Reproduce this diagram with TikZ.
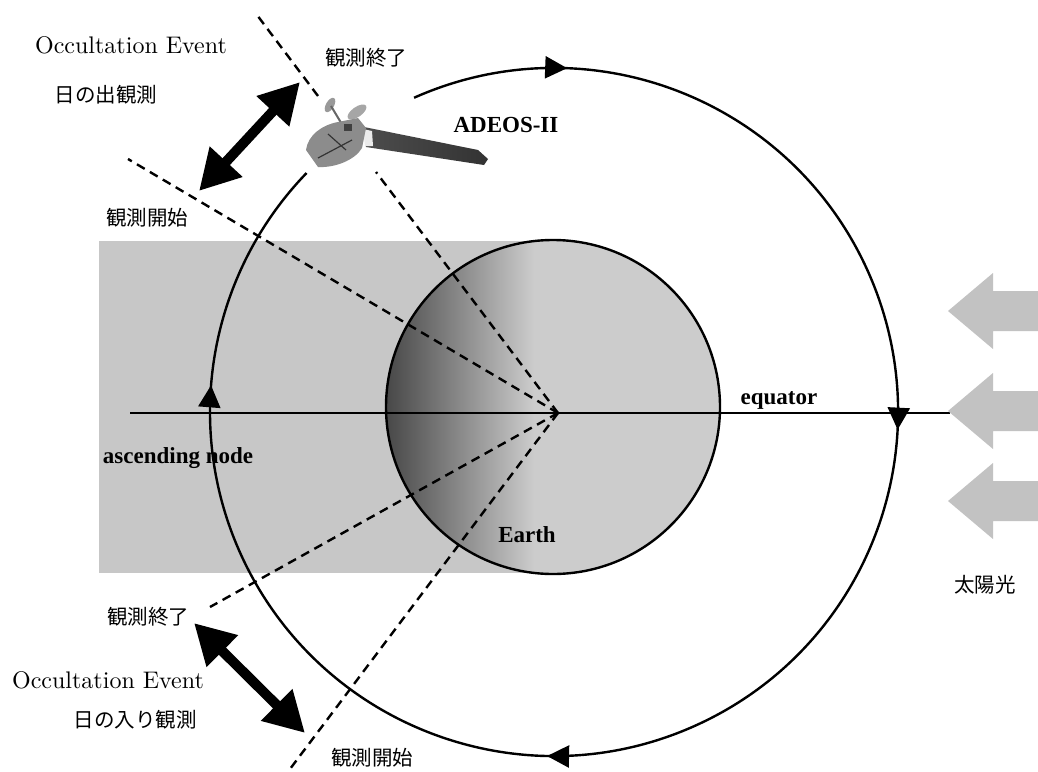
\documentclass[tikz,border=0pt]{standalone}
\usepackage{fontspec}
\usetikzlibrary{arrows.meta,decorations.markings}
\newfontfamily\jpfont{Noto Sans CJK JP}
\newfontfamily\tmsfont{Liberation Serif}
\newfontfamily\cmten{lmroman10-regular.otf}
\begin{document}
\begin{tikzpicture}[x=1pt,y=-1pt,
  every node/.style={inner sep=0pt,outer sep=0pt},
  latin/.style={font=\cmten\fontsize{24}{28}\selectfont},
  boldlabel/.style={font=\tmsfont\bfseries\fontsize{23}{27}\selectfont},
  jplabel/.style={font=\jpfont\fontsize{20.5}{24}\selectfont},
  fov/.style={line width=2.4pt,dash pattern=on 9pt off 6pt},
  orbitline/.style={line width=2.4pt},
  bigarrow/.style={line width=10pt,
    {Triangle[length=40pt,width=42pt]}-{Triangle[length=40pt,width=42pt]}},
  sunarrow/.style={fill=black!24,draw=none}
]
\useasboundingbox[fill=white] (0,0) rectangle (1038,771);

% key points
\coordinate (O) at (554,412);      % orbit centre
\coordinate (E) at (553,407);      % earth centre
\coordinate (C) at (558,413);      % convergence of the view lines

% night side shadow
\fill[black!22] (99,241) rectangle (553,573);

% earth with day/night shading
\fill[black!20] (E) circle[radius=167];
\begin{scope}
  \clip (E) circle[radius=167];
  \shade[left color=black!72,middle color=black!55,right color=black!20]
    (386,230) rectangle (534,580);
\end{scope}
\draw[line width=2.4pt] (E) circle[radius=167];

% equator
\coordinate (eqW) at (130,413);
\coordinate (eqE) at (950,413);
\draw[line width=2.4pt] (eqW) -- (eqE);

% lines of sight
\coordinate (s1) at (257,15);
\coordinate (s1a) at (318,96);
\coordinate (s1b) at (376,172);
\coordinate (s2) at (128,159);
\coordinate (s3) at (210,607);
\coordinate (s4) at (290,769);
\draw[fov] (C) -- (s1b);
\draw[fov] (s1a) -- (s1);
\draw[fov] (C) -- (s2);
\draw[fov] (C) -- (s3);
\draw[fov] (C) -- (s4);

% orbit with direction marks
\draw[orbitline,postaction={decorate},decoration={markings,
    mark=at position 0.0775 with {\arrow{Triangle[length=22pt,width=22pt]}},
    mark=at position 0.346 with {\arrow{Triangle[length=22pt,width=22pt]}},
    mark=at position 0.607 with {\arrow{Triangle[length=22pt,width=22pt]}},
    mark=at position 0.883 with {\arrow{Triangle[length=22pt,width=22pt]}}}]
  (O) ++(246:344) arc[start angle=246,end angle=584,radius=344];

% satellite
\fill[black!40,rotate around={-30:(330,105)}] (330,105) ellipse[x radius=4,y radius=8];
\draw[black!60,line width=2pt] (331,106) -- (343,126);
\fill[black!35,rotate around={35:(357,112)}] (357,112) ellipse[x radius=11,y radius=5];
\shade[left color=black!70,middle color=black!8,right color=black!80]
  (364,127) -- (478,150) -- (488,159) -- (484,165) -- (366,147) -- cycle;
\fill[black!8] (363,129) -- (372,131) -- (373,146) -- (365,146) -- cycle;
\fill[black!45] (306,150) .. controls (308,135) and (322,125) .. (338,122)
  -- (358,118) -- (366,128) -- (362,148)
  .. controls (355,160) and (335,168) .. (318,167) -- cycle;
\draw[black!80,line width=1.2pt] (318,158) -- (352,140) (328,134) -- (346,150);
\fill[black!75] (344,124) rectangle (352,131);

% occultation arcs
\coordinate (rA) at (300,82);
\coordinate (rB) at (199,191);
\coordinate (tA) at (194,623);
\coordinate (tB) at (305,733);
\draw[bigarrow] (rA) -- (rB);
\draw[bigarrow] (tA) -- (tB);

% sunlight
\foreach \yc/\nm in {311/sunA,411/sunB,501/sunC}{
  \fill[sunarrow] (948,\yc) coordinate (\nm)
    -- (993,\yc-38) -- (993,\yc-20) -- (1040,\yc-20)
    -- (1040,\yc+20) -- (993,\yc+20) -- (993,\yc+38) -- cycle;
}

% labels
\node[latin,anchor=base] (occA) at (131,53) {Occultation Event};
\node[jplabel] (rise) at (106,95) {日の出観測};
\node[jplabel] (endA) at (366,58) {観測終了};
\node[jplabel] (startA) at (147,218) {観測開始};
\node[boldlabel,anchor=base] (sat) at (506,132) {ADEOS-II};
\node[boldlabel,anchor=base] (eqlab) at (779,404) {equator};
\node[boldlabel,anchor=base] (asc) at (178,463) {ascending node};
\node[boldlabel,anchor=base] (earth) at (527,542) {Earth};
\node[latin,anchor=base] (occB) at (108,688) {Occultation Event};
\node[jplabel] (set) at (135,720) {日の入り観測};
\node[jplabel] (endB) at (148,617) {観測終了};
\node[jplabel] (startB) at (372,758) {観測開始};
\node[jplabel] (sun) at (985,585) {太陽光};
\end{tikzpicture}
\end{document}
